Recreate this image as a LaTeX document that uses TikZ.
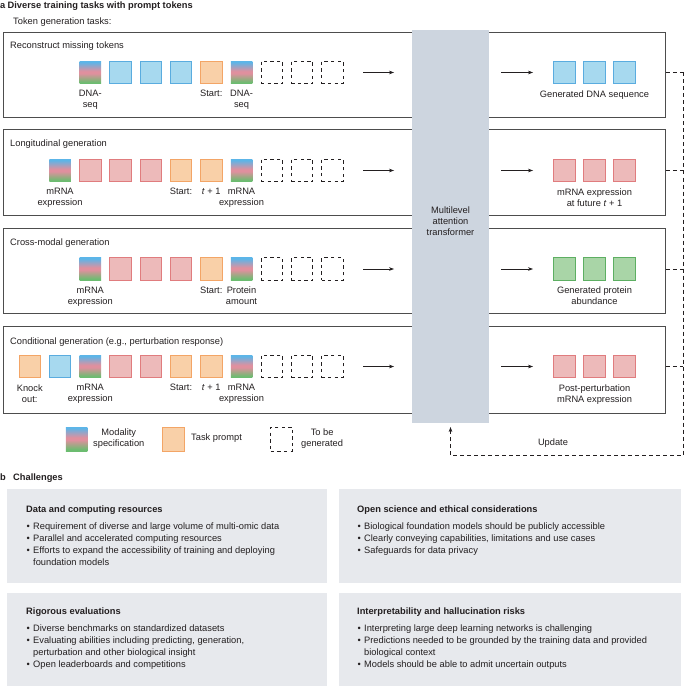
\documentclass[tikz,border=0pt]{standalone}
\usepackage{fontspec}
\setmainfont{Liberation Sans}
\usetikzlibrary{arrows.meta,positioning}
\definecolor{fBlue}{HTML}{A7D9EF}
\definecolor{dBlue}{HTML}{5AACDF}
\definecolor{fPink}{HTML}{EDBABA}
\definecolor{dPink}{HTML}{E07C7E}
\definecolor{fOrange}{HTML}{F9D0A8}
\definecolor{dOrange}{HTML}{F3A566}
\definecolor{fGreen}{HTML}{A9D5A7}
\definecolor{dGreen}{HTML}{5DAF62}
\definecolor{gBlue}{HTML}{5CB5E8}
\definecolor{gPink}{HTML}{E0909E}
\definecolor{gGreen}{HTML}{6CBC70}
\definecolor{transGrey}{HTML}{CDD5DF}
\definecolor{chalGrey}{HTML}{E7E9ED}
\definecolor{lineGrey}{HTML}{4D4D4D}
\definecolor{txt}{HTML}{231F20}
\pgfdeclareverticalshading{modality}{100bp}{color(0bp)=(gGreen); color(28bp)=(gGreen); color(48bp)=(gPink); color(53bp)=(gPink); color(73bp)=(gBlue); color(100bp)=(gBlue)}
\newcommand{\bfnt}{\fontsize{9.3}{11}\selectfont}
\newcommand{\blt}[1]{\makebox[7pt][l]{\hspace{0.5pt}•}#1}
\newcommand{\cnt}[1]{\hspace*{7pt}#1}
\tikzset{
  every node/.style={text=txt},
  txtn/.style={font=\bfnt, inner sep=0pt},
  hdr/.style={font=\bfnt\bfseries, inner sep=0pt, anchor=base west},
  plain/.style={font=\bfnt, inner sep=0pt, anchor=base west},
  lbl/.style={font=\bfnt, inner sep=0pt, align=center},
  tokbase/.style={minimum width=21.5pt, minimum height=22.5pt, inner sep=0pt, line width=0.8pt},
  tokblue/.style={tokbase, draw=dBlue, fill=fBlue},
  tokpink/.style={tokbase, draw=dPink, fill=fPink},
  tokorange/.style={tokbase, draw=dOrange, fill=fOrange},
  tokgreen/.style={tokbase, draw=dGreen, fill=fGreen},
  tokmod/.style={tokbase, shading=modality},
  tokgen/.style={tokbase, draw=txt, dash pattern=on 3.3pt off 3.3pt, line width=0.7pt},
  rowbox/.style={draw=lineGrey, line width=0.9pt, inner sep=0pt, anchor=north west, minimum width=662pt},
  trans/.style={fill=transGrey, inner sep=0pt, anchor=north west},
  chal/.style={fill=chalGrey, inner sep=0pt, anchor=north west},
  arr/.style={draw=txt, line width=0.6pt, -{Stealth[length=5pt,width=3.6pt]}},
  dline/.style={draw=txt, line width=0.7pt, dash pattern=on 4pt off 3pt},
}
\begin{document}
\begin{tikzpicture}[x=1pt,y=-1pt]
\useasboundingbox (0,0) rectangle (685,687);

% headings
\node[hdr] (la) at (0,8.5) {a};
\node[hdr] (ta) at (7.5,8.5) {Diverse training tasks with prompt tokens};
\node[plain] (tgt) at (13,24.5) {Token generation tasks:};

% row boxes
\node[rowbox, minimum height=85pt] (box1) at (3,32) {};
\node[rowbox, minimum height=86pt] (box2) at (3,129) {};
\node[rowbox, minimum height=85pt] (box3) at (3,228) {};
\node[rowbox, minimum height=87pt] (box4) at (3,326) {};

\node[plain] (bt1) at (10,48.5) {Reconstruct missing tokens};
\node[plain] (bt2) at (10,146.5) {Longitudinal generation};
\node[plain] (bt3) at (10,245.5) {Cross-modal generation};
\node[plain] (bt4) at (10,344.5) {Conditional generation (e.g., perturbation response)};

% transformer
\node[trans, minimum width=77pt, minimum height=393pt] (tr) at (412,30) {};
\node[lbl] (trt) at (450.5,221.5) {Multilevel\\attention\\transformer};

% input tokens
\foreach \s [count=\i from 2] in {tokmod,tokblue,tokblue,tokblue,tokorange,tokmod,tokgen,tokgen,tokgen}
  \node[\s] (r1t\i) at ({29.75+30.25*\i},72.5) {};
\foreach \s [count=\i from 1] in {tokmod,tokpink,tokpink,tokpink,tokorange,tokorange,tokmod,tokgen,tokgen,tokgen}
  \node[\s] (r2t\i) at ({29.75+30.25*\i},170.5) {};
\foreach \s [count=\i from 2] in {tokmod,tokpink,tokpink,tokpink,tokorange,tokmod,tokgen,tokgen,tokgen}
  \node[\s] (r3t\i) at ({29.75+30.25*\i},269) {};
\foreach \s [count=\i from 0] in {tokorange,tokblue,tokmod,tokpink,tokpink,tokorange,tokorange,tokmod,tokgen,tokgen,tokgen}
  \node[\s] (r4t\i) at ({29.75+30.25*\i},366.5) {};

% input labels
\node[lbl, below=6pt of r1t2] (l1a) {DNA-\\seq};
\node[lbl, below=6pt of r1t6] (l1b) {Start:};
\node[lbl, below=6pt of r1t7] (l1c) {DNA-\\seq};

\node[lbl, below=6pt of r2t1] (l2a) {mRNA\\expression};
\node[lbl, below=6pt of r2t5] (l2b) {Start:};
\node[lbl, below=6pt of r2t6] (l2c) {\textit{t} + 1};
\node[lbl, below=6pt of r2t7] (l2d) {mRNA\\expression};

\node[lbl, below=6pt of r3t2] (l3a) {mRNA\\expression};
\node[lbl, below=6pt of r3t6] (l3b) {Start:};
\node[lbl, below=6pt of r3t7] (l3c) {Protein\\amount};

\node[lbl, below=6pt of r4t0] (l4a) {Knock\\out:};
\node[lbl, below=6pt of r4t2] (l4b) {mRNA\\expression};
\node[lbl, below=6pt of r4t5] (l4c) {Start:};
\node[lbl, below=6pt of r4t6] (l4d) {\textit{t} + 1};
\node[lbl, below=6pt of r4t7] (l4e) {mRNA\\expression};

% arrows and output tokens
\foreach \y/\s [count=\k] in {72.5/tokblue,170.5/tokpink,269/tokgreen,366.5/tokpink}{
  \coordinate (ia\k) at (363,\y);
  \coordinate (ib\k) at (394,\y);
  \coordinate (oa\k) at (501,\y);
  \coordinate (ob\k) at (533,\y);
  \draw[arr] (ia\k) -- (ib\k);
  \draw[arr] (oa\k) -- (ob\k);
  \node[\s] (o\k a) at (564.5,\y) {};
  \node[\s] (o\k b) at (594.5,\y) {};
  \node[\s] (o\k c) at (624.5,\y) {};
  \coordinate (c\k) at (683,\y);
  \draw[dline] (box\k.east |- c\k) -- (c\k);
}
\node[lbl, below=6pt of o1b] (ol1) {Generated DNA sequence};
\node[lbl, below=6pt of o2b] (ol2) {mRNA expression\\at future \textit{t} + 1};
\node[lbl, below=6pt of o3b] (ol3) {Generated protein\\abundance};
\node[lbl, below=6pt of o4b] (ol4) {Post-perturbation\\mRNA expression};

% update loop
\coordinate (cb) at (683,455);
\coordinate (cc) at (450.5,455);
\coordinate (ct) at (450.5,427);
\draw[dline] (c1) -- (cb) -- (cc);
\draw[dline, -{Stealth[length=5pt,width=3.6pt]}] (cc) -- (ct);
\node[txtn] (upd) at (553,443) {Update};

% legend
\node[tokmod, minimum height=24pt] (lg1) at (76.5,439) {};
\node[lbl, anchor=west] (lg1t) at (93,438.5) {Modality\\specification};
\node[tokorange, minimum height=24pt] (lg2) at (173.5,439) {};
\node[txtn, anchor=west] (lg2t) at (191,438.5) {Task prompt};
\node[tokgen, minimum height=24pt] (lg3) at (281.5,439) {};
\node[lbl, anchor=west] (lg3t) at (301,438.5) {To be\\generated};

% part b
\node[hdr] (lb) at (0,480.5) {b};
\node[hdr] (tb) at (13,480.5) {Challenges};

\node[chal, minimum width=320pt, minimum height=94pt] (b1) at (7,489) {};
\node[chal, minimum width=342pt, minimum height=94pt] (b2) at (339,489) {};
\node[chal, minimum width=320pt, minimum height=93pt] (b3) at (7,593) {};
\node[chal, minimum width=342pt, minimum height=93pt] (b4) at (339,593) {};

\node[hdr] (b1h) at (26,512.5) {Data and computing resources};
\node[plain] (b1a) at (26,529.3) {\blt{Requirement of diverse and large volume of multi-omic data}};
\node[plain] (b1b) at (26,541.3) {\blt{Parallel and accelerated computing resources}};
\node[plain] (b1c) at (26,553.3) {\blt{Efforts to expand the accessibility of training and deploying}};
\node[plain] (b1d) at (26,565.3) {\cnt{foundation models}};

\node[hdr] (b2h) at (357,512.5) {Open science and ethical considerations};
\node[plain] (b2a) at (357,529.3) {\blt{Biological foundation models should be publicly accessible}};
\node[plain] (b2b) at (357,541.3) {\blt{Clearly conveying capabilities, limitations and use cases}};
\node[plain] (b2c) at (357,553.3) {\blt{Safeguards for data privacy}};

\node[hdr] (b3h) at (26,614.3) {Rigorous evaluations};
\node[plain] (b3a) at (26,631.3) {\blt{Diverse benchmarks on standardized datasets}};
\node[plain] (b3b) at (26,643.3) {\blt{Evaluating abilities including predicting, generation,}};
\node[plain] (b3c) at (26,655.3) {\cnt{perturbation and other biological insight}};
\node[plain] (b3d) at (26,667.3) {\blt{Open leaderboards and competitions}};

\node[hdr] (b4h) at (357,614.3) {Interpretability and hallucination risks};
\node[plain] (b4a) at (357,631.3) {\blt{Interpreting large deep learning networks is challenging}};
\node[plain] (b4b) at (357,643.3) {\blt{Predictions needed to be grounded by the training data and provided}};
\node[plain] (b4c) at (357,655.3) {\cnt{biological context}};
\node[plain] (b4d) at (357,667.3) {\blt{Models should be able to admit uncertain outputs}};
\end{tikzpicture}
\end{document}
